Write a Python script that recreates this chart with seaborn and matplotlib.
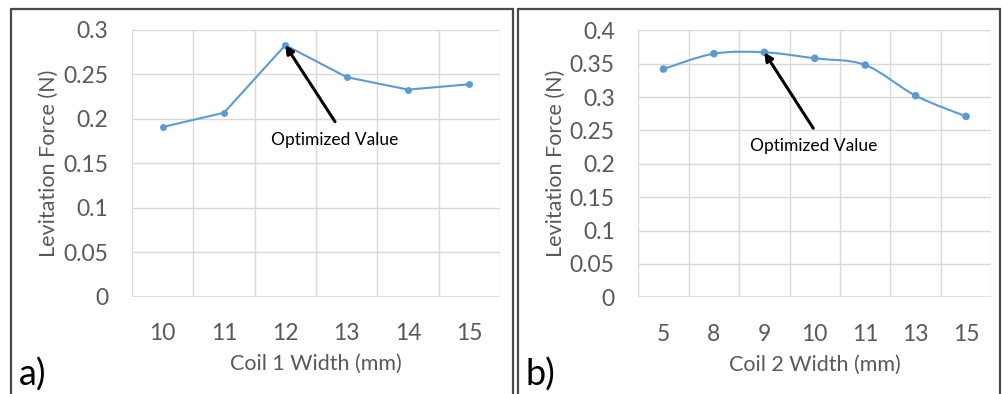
import numpy as np
import matplotlib
matplotlib.use("Agg")
import matplotlib.pyplot as plt
from matplotlib.path import Path
from matplotlib.patches import PathPatch, Rectangle
import seaborn as sns

# Coil 1 sweep
coil1_width = ["10", "11", "12", "13", "14", "15"]
coil1_force = [0.191, 0.207, 0.283, 0.247, 0.233, 0.239]

# Coil 2 sweep
coil2_width = ["5", "8", "9", "10", "11", "13", "15"]
coil2_force = [0.342, 0.365, 0.367, 0.358, 0.348, 0.302, 0.271]

sns.set_theme(style="white")
plt.rcParams["font.family"] = ["Lato", "DejaVu Sans"]

LINE = "#5B9BD5"
GRID = "#D9D9D9"
TXT = "#595959"

fig = plt.figure(figsize=(10.03, 3.94), dpi=100)

ax_a = fig.add_axes([0.1316, 0.2462, 0.3669, 0.6777])
ax_b = fig.add_axes([0.6364, 0.2454, 0.3519, 0.6777])


def smooth_path(xs, ys):
    """Cubic Bezier path through the points (Catmull-Rom style smoothing)."""
    pts = np.column_stack([xs, ys]).astype(float)
    ext = np.vstack([pts[0], pts, pts[-1]])
    verts = [tuple(pts[0])]
    codes = [Path.MOVETO]
    for i in range(len(pts) - 1):
        p_prev, p0, p1, p_next = ext[i], ext[i + 1], ext[i + 2], ext[i + 3]
        c1 = p0 + (p1 - p_prev) / 6.0
        c2 = p1 - (p_next - p0) / 6.0
        verts += [tuple(c1), tuple(c2), tuple(p1)]
        codes += [Path.CURVE4] * 3
    return Path(verts, codes)


def style_axes(ax, labels, ymax, xlabel):
    n = len(labels)
    ax.set_xlim(-0.5, n - 0.5)
    ax.set_ylim(0, ymax)
    ax.set_yticks(np.arange(0, ymax + 1e-9, 0.05))
    ax.set_yticklabels([f"{v:g}" for v in np.arange(0, ymax + 1e-9, 0.05)])
    ax.set_xticks(np.arange(n))
    ax.set_xticklabels(labels)
    for b in np.arange(-0.5, n, 1.0):
        ax.axvline(b, color=GRID, lw=1.0, zorder=0)
    for v in np.arange(0.05, ymax + 1e-9, 0.05):
        ax.axhline(v, color=GRID, lw=1.0, zorder=0)
    for s in ax.spines.values():
        s.set_visible(False)
    ax.axhline(0, color=GRID, lw=1.2, zorder=0)
    ax.tick_params(axis="both", length=0, labelsize=16.5, colors=TXT)
    ax.tick_params(axis="x", pad=19)
    ax.tick_params(axis="y", pad=17)
    ax.set_xlabel(xlabel, fontsize=15.5, color=TXT, labelpad=7)
    ax.set_ylabel("Levitation Force (N)", fontsize=15.5, color=TXT, labelpad=3)
    ax.set_facecolor("white")


# Panel a: straight segments
pos_a = np.arange(len(coil1_width))
sns.lineplot(x=pos_a, y=coil1_force, ax=ax_a, color=LINE, lw=1.5,
             marker="o", markersize=5, markeredgewidth=0, zorder=3)
style_axes(ax_a, coil1_width, 0.3, "Coil 1 Width (mm)")
ax_a.annotate("", xy=(2, coil1_force[2]), xytext=(2.81, 0.197),
              arrowprops=dict(arrowstyle="-|>", color="black", lw=2.2,
                              mutation_scale=12, shrinkA=0, shrinkB=0),
              zorder=4)
ax_a.text(2.81, 0.1765, "Optimized Value", ha="center", va="center",
          fontsize=12.5, color="black")

# Panel b: smoothed line
pos_b = np.arange(len(coil2_width))
ax_b.add_patch(PathPatch(smooth_path(pos_b, coil2_force), facecolor="none",
                         edgecolor=LINE, lw=1.5, zorder=3))
sns.scatterplot(x=pos_b, y=coil2_force, ax=ax_b, color=LINE, s=30,
                edgecolor="none", zorder=4)
style_axes(ax_b, coil2_width, 0.4, "Coil 2 Width (mm)")
ax_b.annotate("", xy=(2, coil2_force[2]), xytext=(2.97, 0.2532),
              arrowprops=dict(arrowstyle="-|>", color="black", lw=2.2,
                              mutation_scale=12, shrinkA=0, shrinkB=0),
              zorder=5)
ax_b.text(2.97, 0.2267, "Optimized Value", ha="center", va="center",
          fontsize=12.5, color="black")

# Panel frames and letters
W, H = 1003.0, 394.0
fig.patches.append(Rectangle((11.5 / W, -0.1), (512.7 - 11.5) / W, 1.1 - 8.5 / H,
                             transform=fig.transFigure, fill=False,
                             edgecolor="#4A4A4A", lw=1.6))
fig.patches.append(Rectangle((518.3 / W, -0.1), (1000.5 - 518.3) / W, 1.1 - 8.5 / H,
                             transform=fig.transFigure, fill=False,
                             edgecolor="#4A4A4A", lw=1.6))
fig.text(19 / W, 1 - 375 / H, "a)", fontsize=26, color="black", va="center", ha="left")
fig.text(526 / W, 1 - 375 / H, "b)", fontsize=26, color="black", va="center", ha="left")

fig.savefig("out.png", dpi=100, facecolor="white")
